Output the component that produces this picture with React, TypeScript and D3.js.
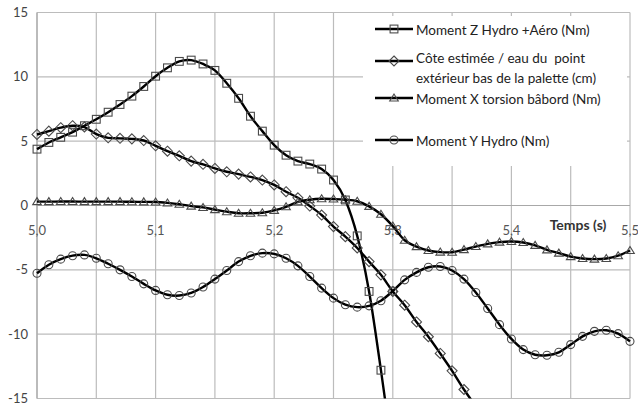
import React from "react";
import * as d3 from "d3";

const times = [
  5.0, 5.01, 5.02, 5.03, 5.04, 5.05, 5.06, 5.07, 5.08, 5.09,
  5.1, 5.11, 5.12, 5.13, 5.14, 5.15, 5.16, 5.17, 5.18, 5.19,
  5.2, 5.21, 5.22, 5.23, 5.24, 5.25, 5.26, 5.27, 5.28, 5.29,
  5.3, 5.31, 5.32, 5.33, 5.34, 5.35, 5.36, 5.37, 5.38, 5.39,
  5.4, 5.41, 5.42, 5.43, 5.44, 5.45, 5.46, 5.47, 5.48, 5.49, 5.5,
];

// Moment Z Hydro +Aéro (Nm) — squares (5.00 .. 5.30)
const momentZ = [
  4.38, 4.9, 5.3, 5.7, 6.2, 6.7, 7.25, 7.85, 8.5, 9.25,
  10.05, 10.7, 11.2, 11.3, 11.0, 10.5, 9.5, 8.33, 6.94, 5.78,
  4.69, 3.91, 3.45, 3.22, 2.83, 1.98, 0.43, -2.36, -6.68, -12.8, -19.5,
];

// Côte estimée / eau — diamonds (5.00 .. 5.37)
const cote = [
  5.52, 5.78, 6.05, 6.2, 6.1, 5.55, 5.26, 5.22, 5.18, 5.05,
  4.64, 4.22, 3.86, 3.45, 3.2, 2.88, 2.62, 2.44, 2.22, 1.98,
  1.6, 1.07, 0.6, -0.04, -0.74, -1.64, -2.42, -3.3, -4.36, -5.39,
  -6.68, -7.75, -9.05, -10.2, -11.5, -12.85, -14.3, -15.6,
];

// Moment X torsion bâbord (Nm) — triangles
const momentX = [
  0.3, 0.3, 0.31, 0.31, 0.3, 0.3, 0.3, 0.3, 0.29, 0.28,
  0.27, 0.2, 0.1, -0.05, -0.15, -0.32, -0.48, -0.6, -0.6, -0.56,
  -0.38, -0.1, 0.28, 0.45, 0.52, 0.5, 0.45, 0.33, -0.07, -0.68,
  -1.6, -2.7, -3.2, -3.5, -3.62, -3.63, -3.43, -3.19, -2.98, -2.85,
  -2.8, -2.88, -3.1, -3.45, -3.7, -3.97, -4.12, -4.17, -4.12, -3.9, -3.5,
];

// Moment Y Hydro (Nm) — circles
const momentY = [
  -5.26, -4.6, -4.17, -3.9, -3.84, -4.1, -4.53, -5.0, -5.52, -6.09,
  -6.6, -6.94, -7.0, -6.8, -6.34, -5.72, -5.05, -4.36, -3.91, -3.7,
  -3.76, -4.1, -4.69, -5.52, -6.42, -7.2, -7.71, -7.9, -7.8, -7.4,
  -6.65, -5.78, -5.2, -4.8, -4.74, -5.05, -5.72, -6.76, -8.0, -9.26,
  -10.37, -11.2, -11.6, -11.64, -11.41, -10.81, -10.17, -9.78, -9.7, -9.96, -10.56,
];

const yTicks = [-15, -10, -5, 0, 5, 10, 15];
const xLabelTicks = [5.0, 5.1, 5.2, 5.3, 5.4, 5.5];
const xGridTicks = [5.0, 5.05, 5.1, 5.15, 5.2, 5.25, 5.3, 5.35, 5.4, 5.45, 5.5];

const legendLabels = [
  ["Moment Z Hydro +Aéro (Nm)"],
  ["Côte estimée / eau du  point", "extérieur bas de la palette (cm)"],
  ["Moment X torsion bâbord (Nm)"],
  ["Moment Y Hydro (Nm)"],
];
const xTitle = "Temps (s)";

const W = 638;
const H = 405;
const FONT = "Lato, 'Open Sans', sans-serif";

type MarkerKind = "square" | "diamond" | "triangle" | "circle";

function Marker({ kind, cx, cy }: { kind: MarkerKind; cx: number; cy: number }) {
  const st = { fill: "none", stroke: "#4a4a4a", strokeWidth: 1.1 };
  if (kind === "square") return <rect x={cx - 3.9} y={cy - 3.9} width={7.8} height={7.8} {...st} />;
  if (kind === "circle") return <circle cx={cx} cy={cy} r={4} {...st} />;
  if (kind === "diamond")
    return <path d={`M${cx},${cy - 5}L${cx + 5},${cy}L${cx},${cy + 5}L${cx - 5},${cy}Z`} {...st} />;
  return <path d={`M${cx},${cy - 4}L${cx + 4.3},${cy + 3}L${cx - 4.3},${cy + 3}Z`} {...st} />;
}

export default function App() {
  const x = d3.scaleLinear().domain([5, 5.5]).range([37, 630]);
  const y = d3.scaleLinear().domain([-15, 15]).range([398.5, 12.5]);

  const series: { values: number[]; kind: MarkerKind }[] = [
    { values: momentZ, kind: "square" },
    { values: cote, kind: "diamond" },
    { values: momentX, kind: "triangle" },
    { values: momentY, kind: "circle" },
  ];

  const line = d3
    .line<[number, number]>()
    .x((d) => x(d[0]))
    .y((d) => y(d[1]))
    .curve(d3.curveCatmullRom.alpha(0));

  const legendX = 363;
  const legendY = 16;
  const legendW = 264;
  const legendH = 150;
  const sampleYs = [29, 61, 98, 140];
  const textYs = [[30], [58, 78], [99], [141]];

  return (
    <svg
      width={W}
      height={H}
      viewBox={`0 0 ${W} ${H}`}
      style={{ position: "absolute", left: 0, top: 0, background: "#fff" }}
      fontFamily={FONT}
    >
      <defs>
        <clipPath id="plotclip">
          <rect x={0} y={y(15)} width={W} height={y(-15) - y(15)} />
        </clipPath>
      </defs>
      <rect x={0} y={0} width={W} height={H} fill="#fff" />
      {/* grid */}
      {xGridTicks.map((t) => (
        <line key={"vx" + t} x1={x(t)} x2={x(t)} y1={y(15)} y2={y(-15)} stroke="#bcbcbc" strokeWidth={1.2} />
      ))}
      {yTicks.map((v) => (
        <line key={"hy" + v} x1={x(5)} x2={x(5.5)} y1={y(v)} y2={y(v)} stroke="#bcbcbc" strokeWidth={1.2} />
      ))}
      <line x1={x(5)} x2={x(5)} y1={y(15)} y2={y(-15)} stroke="#a8a8a8" strokeWidth={1.2} />
      <line x1={x(5)} x2={x(5.5)} y1={y(0)} y2={y(0)} stroke="#a8a8a8" strokeWidth={1.2} />

      {/* y tick labels */}
      {yTicks.map((v) => (
        <text key={"yl" + v} x={28} y={y(v) + 4.5} textAnchor="end" fontSize={13} fill="#444">
          {v}
        </text>
      ))}

      {/* legend background */}
      <rect x={legendX} y={legendY} width={legendW} height={legendH} fill="#fff" />

      {/* x tick labels */}
      {xLabelTicks.map((t) => (
        <text key={"xl" + t} x={x(t)} y={y(0) + 29} textAnchor="middle" fontSize={13} fill="#555">
          {t.toFixed(1).replace(".", ",")}
        </text>
      ))}
      <text x={578} y={y(0) + 24.5} textAnchor="middle" fontSize={14} fontWeight="bold" fill="#333">
        {xTitle}
      </text>

      {/* series */}
      <g clipPath="url(#plotclip)">
        {series.map((s, i) => {
          const pts: [number, number][] = s.values.map((v, j) => [times[j], v]);
          return <path key={"l" + i} d={line(pts) || ""} fill="none" stroke="#000" strokeWidth={2.4} />;
        })}
      </g>
      {series.map((s, i) => (
        <g key={"m" + i}>
          {s.values.map((v, j) =>
            v >= -15 && v <= 15 ? <Marker key={j} kind={s.kind} cx={x(times[j])} cy={y(v)} /> : null
          )}
        </g>
      ))}

      {/* legend entries */}
      {series.map((s, i) => (
        <g key={"lg" + i}>
          <line x1={375} x2={413} y1={sampleYs[i]} y2={sampleYs[i]} stroke="#000" strokeWidth={2.4} />
          <Marker kind={s.kind} cx={394} cy={sampleYs[i]} />
          {legendLabels[i].map((txt, k) => (
            <text
              key={k}
              x={416}
              y={textYs[i][k] + 4.5}
              fontSize={13.5}
              fill="#222"
              style={{ whiteSpace: "pre" }}
            >
              {txt}
            </text>
          ))}
        </g>
      ))}
    </svg>
  );
}
